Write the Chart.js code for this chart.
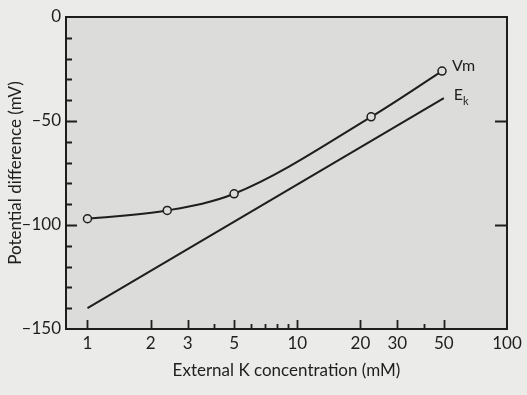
<!DOCTYPE html>
<html>
<head>
<meta charset="utf-8">
<script src="https://cdn.jsdelivr.net/npm/chart.js@4"></script>
<style>
html, body { margin: 0; padding: 0; background: #ebebe9; }
#wrap { width: 527px; height: 395px; }
</style>
</head>
<body>
<div id="wrap"><canvas id="chart" width="527" height="395"></canvas></div>
<script>
// external K (mM) and membrane potential (mV)
const vmConc = [1, 2.4, 5, 22.5, 49];
const vmValues = [-97, -93, -85, -48, -26];
const ekConc = [1, 50];
const ekValues = [-140, -39];

const xTickValues = [1, 2, 3, 4, 5, 6, 7, 8, 9, 10, 20, 30, 40, 50, 100];
const xMajorTicks = [1, 2, 3, 5, 10, 20, 30, 50, 100];
const yTickValues = [0, -10, -20, -30, -40, -50, -60, -70, -80, -90, -100, -110, -120, -130, -140, -150];
const yMajorTicks = [0, -50, -100, -150];
const rightTicks = [-50, -100];

const ink = '#1e1e1e';
const plotBg = '#dcdcda';
const fontFamily = 'Lato, "Open Sans", sans-serif';

const toPoints = (xs, ys) => xs.map((x, i) => ({ x: x, y: ys[i] }));

const framePlugin = {
    id: 'frame',
    beforeDraw(chart) {
        const a = chart.chartArea, ctx = chart.ctx;
        ctx.save();
        ctx.fillStyle = plotBg;
        ctx.fillRect(a.left, a.top, a.right - a.left, a.bottom - a.top);
        ctx.restore();
    },
    afterDraw(chart) {
        const a = chart.chartArea, ctx = chart.ctx;
        const xs = chart.scales.x, ys = chart.scales.y;
        ctx.save();
        ctx.strokeStyle = ink;
        ctx.lineWidth = 2;
        ctx.strokeRect(a.left, a.top, a.right - a.left, a.bottom - a.top);

        ctx.lineWidth = 1.8;
        ctx.beginPath();
        // bottom axis ticks, pointing inward
        xTickValues.forEach(v => {
            if (v >= 100) return;
            const px = Math.round(xs.getPixelForValue(v)) + 0.5;
            const len = xMajorTicks.includes(v) ? 9 : 5;
            ctx.moveTo(px, a.bottom);
            ctx.lineTo(px, a.bottom - len);
        });
        // left axis ticks
        yTickValues.forEach(v => {
            if (v === 0 || v === -150) return;
            const py = Math.round(ys.getPixelForValue(v)) + 0.5;
            const len = yMajorTicks.includes(v) ? 11 : 6;
            ctx.moveTo(a.left - 1, py);
            ctx.lineTo(a.left + len, py);
        });
        // right axis ticks
        rightTicks.forEach(v => {
            const py = Math.round(ys.getPixelForValue(v)) + 0.5;
            ctx.moveTo(a.right, py);
            ctx.lineTo(a.right - 12, py);
        });
        ctx.stroke();

        // series labels
        const vmX = xs.getPixelForValue(vmConc[vmConc.length - 1]);
        const vmY = ys.getPixelForValue(vmValues[vmValues.length - 1]);
        const ekX = xs.getPixelForValue(ekConc[ekConc.length - 1]);
        const ekY = ys.getPixelForValue(ekValues[ekValues.length - 1]);
        ctx.fillStyle = ink;
        ctx.textBaseline = 'middle';
        ctx.font = '16px ' + fontFamily;
        ctx.fillText('Vm', vmX + 10, vmY - 5);
        ctx.fillText('E', ekX + 10, ekY - 3);
        const eW = ctx.measureText('E').width;
        ctx.font = '11px ' + fontFamily;
        ctx.fillText('k', ekX + 10 + eW, ekY + 3);
        ctx.restore();
    }
};

new Chart(document.getElementById('chart').getContext('2d'), {
    type: 'line',
    data: {
        datasets: [{
            label: 'Vm',
            data: toPoints(vmConc, vmValues),
            borderColor: ink,
            borderWidth: 2,
            pointRadius: 4,
            pointBackgroundColor: plotBg,
            pointBorderColor: ink,
            pointBorderWidth: 1.5,
            cubicInterpolationMode: 'monotone'
        }, {
            label: 'Ek',
            data: toPoints(ekConc, ekValues),
            borderColor: ink,
            borderWidth: 2,
            pointRadius: 0,
            tension: 0
        }]
    },
    options: {
        responsive: false,
        animation: false,
        devicePixelRatio: 1,
        layout: { padding: { top: 17, right: 20, left: 0, bottom: 0 } },
        plugins: {
            legend: { display: false },
            tooltip: { enabled: false }
        },
        scales: {
            x: {
                type: 'logarithmic',
                min: 0.79,
                max: 100,
                afterBuildTicks: (s) => { s.ticks = xTickValues.map(v => ({ value: v })); },
                afterFit: (s) => { s.height = 66; },
                grid: { display: false, drawTicks: false },
                border: { display: false },
                ticks: {
                    autoSkip: false,
                    maxRotation: 0,
                    padding: 4,
                    color: ink,
                    font: { family: fontFamily, size: 17 },
                    callback: (v) => xMajorTicks.includes(v) ? String(v) : ''
                },
                title: {
                    display: true,
                    text: 'External K concentration (mM)',
                    color: ink,
                    font: { family: fontFamily, size: 17 },
                    padding: { top: 0, bottom: 14 }
                }
            },
            y: {
                min: -150,
                max: 0,
                afterFit: (s) => { s.width = 66; },
                grid: { display: false, drawTicks: false },
                border: { display: false },
                ticks: {
                    stepSize: 50,
                    padding: 5,
                    color: ink,
                    font: { family: fontFamily, size: 17 },
                    callback: (v) => String(v).replace('-', '\u2013')
                },
                title: {
                    display: true,
                    text: 'Potential difference (mV)',
                    color: ink,
                    font: { family: fontFamily, size: 17 },
                    padding: { top: 5, bottom: 0 }
                }
            }
        }
    },
    plugins: [framePlugin]
});
</script>
</body>
</html>
